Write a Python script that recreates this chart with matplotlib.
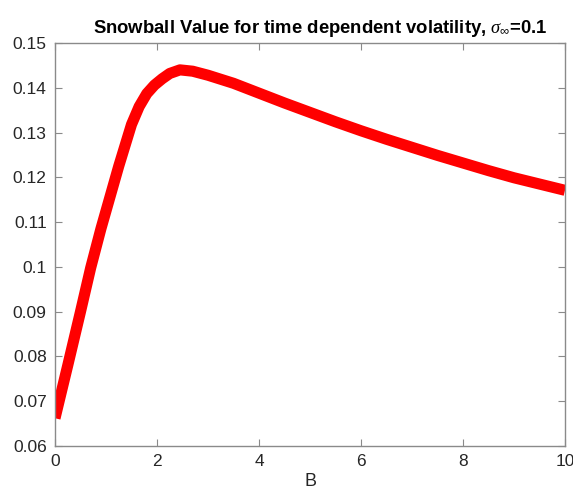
import matplotlib
matplotlib.use("Agg")
import matplotlib.pyplot as plt

plt.rcParams['font.family'] = ['Liberation Sans', 'DejaVu Sans']
plt.rcParams['mathtext.fontset'] = 'custom'
plt.rcParams['mathtext.it'] = 'Liberation Serif:italic'
plt.rcParams['mathtext.rm'] = 'Liberation Sans'

# Barrier level B and the corresponding snowball value
barrier = [0.0, 0.25, 0.5, 0.7, 0.9, 1.05, 1.25, 1.5, 1.65, 1.8, 1.95, 2.1,
           2.25, 2.45, 2.7, 3.0, 3.5, 4.0, 4.5, 5.0, 5.5, 6.0, 6.5, 7.0,
           7.5, 8.0, 8.5, 9.0, 9.5, 10.0]
value = [0.0662, 0.0780, 0.0900, 0.0998, 0.1085, 0.1145, 0.1225, 0.1318,
         0.1358, 0.1387, 0.1406, 0.1420, 0.1432, 0.1440, 0.1437, 0.1428,
         0.1410, 0.1388, 0.1366, 0.1345, 0.1324, 0.1304, 0.1285, 0.1267,
         0.1249, 0.1232, 0.1215, 0.1199, 0.1185, 0.1171]

x_ticks = [0, 2, 4, 6, 8, 10]
y_ticks = [0.06, 0.07, 0.08, 0.09, 0.10, 0.11, 0.12, 0.13, 0.14, 0.15]
y_labels = ['0.06', '0.07', '0.08', '0.09', '0.1', '0.11', '0.12', '0.13', '0.14', '0.15']

fig = plt.figure(figsize=(5.73, 4.91), dpi=100)
ax = fig.add_axes([55 / 573, 1 - 446 / 491, 510 / 573, 403 / 491])

ax.plot(barrier, value, color='red', linewidth=8, solid_capstyle='butt',
        solid_joinstyle='round')

ax.set_xlim(0, 10)
ax.set_ylim(0.06, 0.15)
ax.set_xticks(x_ticks)
ax.set_yticks(y_ticks)
ax.set_yticklabels(y_labels)

axis_gray = '#8a8a8a'
text_dark = '#262626'
for s in ax.spines.values():
    s.set_color(axis_gray)
    s.set_linewidth(1.0)
ax.tick_params(direction='in', length=5, width=0.8, colors=axis_gray,
               labelcolor=text_dark, labelsize=12.5, top=True, right=True,
               pad=6)

ax.set_xlabel('B', fontsize=13, color=text_dark, labelpad=3)
ax.set_title(r'Snowball Value for time dependent volatility, $\sigma_{\infty}$=0.1',
             fontsize=13.3, fontweight='bold', color='black', pad=7, x=0.52)

fig.savefig('out.png', dpi=100)
